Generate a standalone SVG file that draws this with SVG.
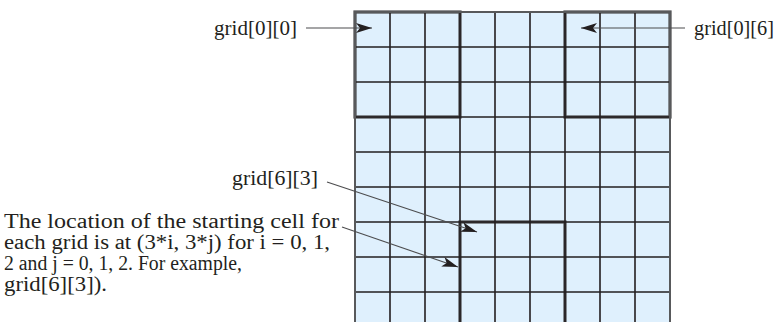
<svg xmlns="http://www.w3.org/2000/svg" width="781" height="322" viewBox="0 0 781 322">
  <style>
    .lbl { font-family: "Liberation Serif", "Times New Roman", serif; font-size: 21px; fill: #231f20; }
    .note { font-family: "Liberation Serif", "Times New Roman", serif; font-size: 20px; fill: #231f20; }
    .gl { stroke: #231f20; stroke-width: 1.6; fill: none; }
    .blk { stroke: #4a4a4c; stroke-width: 3.2; fill: none; }
    .conn { stroke: #4d4d4f; stroke-width: 1.1; fill: none; marker-end: url(#ah); }
  </style>
  <defs>
    <marker id="ah" viewBox="0 0 16 10" refX="16" refY="5" markerWidth="16" markerHeight="10" markerUnits="userSpaceOnUse" orient="auto">
      <path d="M0,0 L16,5 L0,10 L4,5 Z" fill="#231f20"/>
    </marker>
  </defs>
  <rect width="781" height="322" fill="#ffffff"/>

  <g id="grid">
    <rect x="355" y="12" width="315" height="320" fill="#dff0fd"/>
    <g id="blocks">
      <rect class="blk" x="355" y="12" width="105" height="105"/>
      <rect class="blk" x="565" y="12" width="105" height="105"/>
      <rect class="blk" x="460" y="222" width="105" height="105"/>
    </g>
    <g id="lines">
      <path class="gl" d="M390,12V330 M425,12V330 M460,12V330 M495,12V330 M530,12V330 M565,12V330 M600,12V330 M635,12V330"/>
      <path class="gl" d="M355,47H670 M355,82H670 M355,117H670 M355,152H670 M355,187H670 M355,222H670 M355,257H670 M355,292H670"/>
      <path d="M355,330V12H670V330" fill="none" stroke="#58595b" stroke-width="2"/>
    </g>
  </g>

  <g id="label-grid00"><text class="lbl" x="214" y="35" textLength="83" lengthAdjust="spacingAndGlyphs">grid[0][0]</text></g>
  <g id="label-grid06"><text class="lbl" x="694" y="35" textLength="80" lengthAdjust="spacingAndGlyphs">grid[0][6]</text></g>
  <g id="label-grid63"><text class="lbl" x="232" y="185" textLength="86" lengthAdjust="spacingAndGlyphs">grid[6][3]</text></g>
  <g id="label-note">
    <text class="note" x="4" y="228" textLength="335" lengthAdjust="spacingAndGlyphs">The location of the starting cell for</text>
    <text class="note" x="4" y="249" textLength="326" lengthAdjust="spacingAndGlyphs">each grid is at (3*i, 3*j) for i = 0, 1,</text>
    <text class="note" x="4" y="270" textLength="238" lengthAdjust="spacingAndGlyphs">2 and j = 0, 1, 2. For example,</text>
    <text class="note" x="4" y="291" textLength="103" lengthAdjust="spacingAndGlyphs">grid[6][3]).</text>
  </g>

  <g id="connectors">
    <line class="conn" x1="306" y1="28" x2="372" y2="28"/>
    <line class="conn" x1="685" y1="28" x2="581" y2="28"/>
    <line class="conn" x1="327" y1="182" x2="477" y2="232"/>
    <line class="conn" x1="342" y1="227" x2="458" y2="267"/>
  </g>
</svg>
